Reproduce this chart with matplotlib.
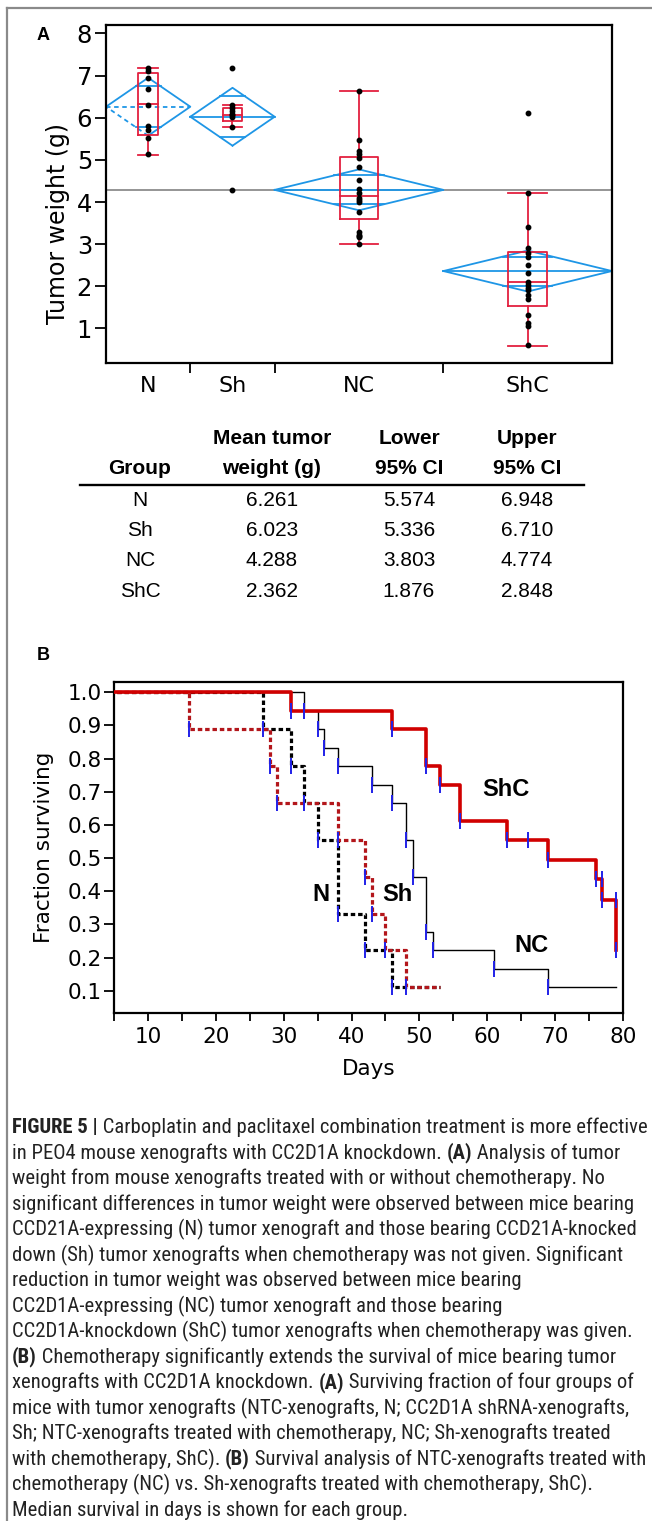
import matplotlib
matplotlib.use('Agg')
import matplotlib.pyplot as plt
from matplotlib.lines import Line2D
from matplotlib import font_manager
import numpy as np

W, H = 652, 1521

# ---------------- panel A: tumor weight
groups = ['N', 'Sh', 'NC', 'ShC']
group_n = [9, 9, 18, 18]
weights_N = [7.19, 7.11, 6.95, 6.68, 6.30, 5.81, 5.72, 5.52, 5.13]
weights_Sh = [7.19, 6.30, 6.22, 6.16, 6.10, 6.06, 6.02, 5.79, 4.29]
weights_NC = [6.63, 5.47, 5.20, 5.15, 5.04, 4.82, 4.53, 4.31, 4.21, 4.10,
              4.05, 4.01, 3.76, 3.28, 3.22, 3.20, 3.16, 3.00]
weights_ShC = [6.12, 4.22, 3.41, 2.90, 2.80, 2.70, 2.50, 2.32, 2.10, 2.03,
               1.97, 1.91, 1.79, 1.69, 1.32, 1.12, 1.05, 0.60]

box_q1 = [5.59, 5.92, 3.60, 1.54]
box_med = [6.32, 6.06, 4.15, 2.10]
box_q3 = [7.06, 6.22, 5.06, 2.82]
whisk_lo = [5.12, 5.79, 3.00, 0.58]
whisk_hi = [7.19, 6.30, 6.63, 4.22]

mean_weight = [6.261, 6.023, 4.288, 2.362]
ci_lower = [5.574, 5.336, 3.803, 1.876]
ci_upper = [6.948, 6.710, 4.774, 2.848]
grand_mean = 4.29

# ---------------- panel B: survival curves
N_days = [27, 31, 33, 35, 38, 42, 46]
N_surv = [0.889, 0.778, 0.667, 0.556, 0.333, 0.222, 0.111]
N_end = 53
N_cens_days = [27, 31, 33, 35, 38, 42, 46]
N_cens_surv = [0.889, 0.778, 0.667, 0.556, 0.333, 0.222, 0.111]

Sh_days = [16, 28, 29, 38, 42, 43, 45, 48]
Sh_surv = [0.889, 0.778, 0.667, 0.556, 0.444, 0.333, 0.222, 0.111]
Sh_end = 53
Sh_cens_days = [16, 28, 29, 38, 42, 43, 45, 48]
Sh_cens_surv = [0.889, 0.778, 0.667, 0.556, 0.444, 0.333, 0.222, 0.111]

NC_days = [33, 35, 36, 38, 43, 46, 48, 49, 51, 52, 61, 69]
NC_surv = [0.944, 0.889, 0.833, 0.778, 0.722, 0.667, 0.556, 0.444,
           0.278, 0.222, 0.167, 0.111]
NC_end = 79
NC_cens_days = NC_days
NC_cens_surv = NC_surv

ShC_days = [31, 46, 51, 53, 56, 63, 69, 76, 77, 79]
ShC_surv = [0.944, 0.889, 0.778, 0.722, 0.611, 0.556, 0.494, 0.437, 0.374, 0.223]
ShC_end = 79
ShC_cens_days = [31, 46, 51, 53, 56, 63, 66, 69, 76, 77, 77, 79, 79]
ShC_cens_surv = [0.944, 0.889, 0.778, 0.722, 0.611, 0.556, 0.556, 0.494,
                 0.437, 0.437, 0.374, 0.374, 0.223]

table_cols = ['Mean tumor\nweight (g)', 'Lower\n95% CI', 'Upper\n95% CI']

caption = [
    [("FIGURE 5 |", True), (" Carboplatin and paclitaxel combination treatment is more effective", False)],
    [("in PEO4 mouse xenografts with CC2D1A knockdown. ", False), ("(A)", True), (" Analysis of tumor", False)],
    [("weight from mouse xenografts treated with or without chemotherapy. No", False)],
    [("significant differences in tumor weight were observed between mice bearing", False)],
    [("CCD21A-expressing (N) tumor xenograft and those bearing CCD21A-knocked", False)],
    [("down (Sh) tumor xenografts when chemotherapy was not given. Significant", False)],
    [("reduction in tumor weight was observed between mice bearing", False)],
    [("CC2D1A-expressing (NC) tumor xenograft and those bearing", False)],
    [("CC2D1A-knockdown (ShC) tumor xenografts when chemotherapy was given.", False)],
    [("(B)", True), (" Chemotherapy significantly extends the survival of mice bearing tumor", False)],
    [("xenografts with CC2D1A knockdown. ", False), ("(A)", True), (" Surviving fraction of four groups of", False)],
    [("mice with tumor xenografts (NTC-xenografts, N; CC2D1A shRNA-xenografts,", False)],
    [("Sh; NTC-xenografts treated with chemotherapy, NC; Sh-xenografts treated", False)],
    [("with chemotherapy, ShC). ", False), ("(B)", True), (" Survival analysis of NTC-xenografts treated with", False)],
    [("chemotherapy (NC) vs. Sh-xenografts treated with chemotherapy, ShC).", False)],
    [("Median survival in days is shown for each group.", False)],
]

BLUE = '#1e96e6'
BOXRED = '#e3203f'
TICKBLUE = '#2020e8'


def px(x, y):
    return x / W, 1 - y / H


fig = plt.figure(figsize=(W / 100, H / 100), dpi=100)

# frame around the figure
fig.add_artist(Line2D([7 / W, 1], [1 - 8 / H] * 2, color='#8a8a8a', lw=1.6,
                      transform=fig.transFigure))
fig.add_artist(Line2D([7 / W, 7 / W], [0, 1 - 8 / H], color='#8a8a8a', lw=1.6,
                      transform=fig.transFigure))

# ================= panel A
axA = fig.add_axes([106 / W, 1 - 363 / H, 506 / W, 338 / H])
edges = np.concatenate([[0], np.cumsum(group_n)])
centers = (edges[:-1] + edges[1:]) / 2
all_weights = [weights_N, weights_Sh, weights_NC, weights_ShC]

axA.axhline(grand_mean, color='#8c8c8c', lw=1.3, zorder=1)

for i, g in enumerate(groups):
    x0, x1, xc = edges[i], edges[i + 1], centers[i]
    m, lo, hi = mean_weight[i], ci_lower[i], ci_upper[i]
    dashed = (g == 'N')
    ls_special = (0, (2.5, 2)) if dashed else '-'
    # diamond
    axA.plot([x0, xc, x1, xc], [m, hi, m, lo], color=BLUE, lw=1.3, zorder=2)
    axA.plot([xc, x0], [lo, m], color=BLUE, lw=1.3, ls=ls_special, zorder=2)
    axA.plot([x0, x1], [m, m], color=BLUE, lw=1.3, ls=ls_special, zorder=2)
    # overlap marks
    half = (hi - m) / np.sqrt(2)
    hw = (1 - 1 / np.sqrt(2)) * (x1 - x0) / 2
    for yv in (m + half, m - half):
        axA.plot([xc - hw, xc + hw], [yv, yv], color=BLUE, lw=1.3, zorder=2)
    # box plot
    bw = 0.23 * group_n[i] / 2
    axA.plot([xc - bw, xc + bw, xc + bw, xc - bw, xc - bw],
             [box_q1[i], box_q1[i], box_q3[i], box_q3[i], box_q1[i]],
             color=BOXRED, lw=1.3, zorder=3)
    axA.plot([xc - bw, xc + bw], [box_med[i]] * 2, color=BOXRED, lw=1.3, zorder=3)
    axA.plot([xc, xc], [box_q3[i], whisk_hi[i]], color=BOXRED, lw=1.3, zorder=3)
    axA.plot([xc, xc], [box_q1[i], whisk_lo[i]], color=BOXRED, lw=1.3, zorder=3)
    for yv in (whisk_lo[i], whisk_hi[i]):
        axA.plot([xc - bw, xc + bw], [yv, yv], color=BOXRED, lw=1.3, zorder=3)
    # points
    axA.plot(np.full(len(all_weights[i]), xc), all_weights[i], 'o', color='black',
             ms=3.2, zorder=4)

axA.set_xlim(0, edges[-1])
axA.set_ylim(0.18, 8.2)
axA.set_yticks(range(1, 9))
axA.set_xticks(edges[1:-1])
axA.set_xticklabels([])
axA.set_xticks(centers, minor=True)
axA.set_xticklabels(groups, minor=True)
axA.tick_params(axis='y', length=8, width=1.3, pad=2, labelsize=17.5)
axA.tick_params(axis='x', which='major', length=7, width=1.3)
axA.tick_params(axis='x', which='minor', length=0, pad=9, labelsize=16)
for s in axA.spines.values():
    s.set_linewidth(1.6)
axA.set_ylabel('Tumor weight (g)', fontsize=17)
axA.yaxis.set_label_coords(-0.071, 0.413)
fig.text(*px(43, 36), 'A', fontsize=13, fontweight='bold', family='Liberation Sans',
         ha='center', va='center')

# ---------------- table
tfont = 'Liberation Sans'
col_x = [140, 272, 409, 527]
fig.text(*px(col_x[0], 469), 'Group', fontsize=15, fontweight='bold', family=tfont,
         ha='center', va='center')
for cx, lab in zip(col_x[1:], table_cols):
    top, bot = lab.split('\n')
    fig.text(*px(cx, 438.5), top, fontsize=15, fontweight='bold', family=tfont,
             ha='center', va='center')
    fig.text(*px(cx, 469), bot, fontsize=15, fontweight='bold', family=tfont,
             ha='center', va='center')
fig.add_artist(Line2D([80 / W, 584 / W], [1 - 484.5 / H] * 2, color='black', lw=1.7,
                      transform=fig.transFigure))
for r, g in enumerate(groups):
    yy = 500 + r * 30.5
    row = [g, '%.3f' % mean_weight[r], '%.3f' % ci_lower[r], '%.3f' % ci_upper[r]]
    for cx, txt in zip(col_x, row):
        fig.text(*px(cx, yy), txt, fontsize=15, family=tfont, ha='center', va='center')

# ================= panel B
axB = fig.add_axes([114.3 / W, 1 - 1012.7 / H, 508.4 / W, 331 / H])


def km(ax, days, surv, end, **kw):
    x = np.r_[0, days, end]
    y = np.r_[1.0, surv, surv[-1]]
    ax.step(x, y, where='post', **kw)


dash = (0, (1.4, 0.9))
km(axB, NC_days, NC_surv, NC_end, color='black', lw=1.0, zorder=2)
km(axB, N_days, N_surv, N_end, color='black', lw=2.3, ls=dash, zorder=3)
km(axB, Sh_days, Sh_surv, Sh_end, color='#b3161b', lw=2.3, ls=dash, zorder=3)
km(axB, ShC_days, ShC_surv, ShC_end, color='#d00000', lw=2.6, zorder=4)

for cd, cs in [(N_cens_days, N_cens_surv), (Sh_cens_days, Sh_cens_surv),
               (NC_cens_days, NC_cens_surv), (ShC_cens_days, ShC_cens_surv)]:
    axB.plot(cd, cs, ls='none', marker='|', ms=11.5, mew=1.4, color=TICKBLUE, zorder=5)

bfont = 'Liberation Sans'
axB.text(62.7, 0.708, 'ShC', fontsize=17, fontweight='bold', family=bfont, ha='center', va='center')
axB.text(66.5, 0.237, 'NC', fontsize=17, fontweight='bold', family=bfont, ha='center', va='center')
axB.text(35.5, 0.39, 'N', fontsize=17, fontweight='bold', family=bfont, ha='center', va='center')
axB.text(46.8, 0.39, 'Sh', fontsize=17, fontweight='bold', family=bfont, ha='center', va='center')

axB.set_xlim(5, 80)
axB.set_ylim(0.034, 1.032)
axB.set_xticks(range(10, 81, 10))
axB.set_xticks(range(5, 81, 5), minor=True)
axB.set_yticks(np.arange(1, 11) / 10)
axB.set_yticklabels(['%.1f' % v for v in np.arange(1, 11) / 10])
axB.tick_params(axis='x', which='both', length=6, width=1.3, pad=4, labelsize=15.5)
axB.tick_params(axis='y', length=7, width=1.3, pad=2, labelsize=15.5)
for s in axB.spines.values():
    s.set_linewidth(1.6)
axB.set_ylabel('Fraction surviving', fontsize=15.5)
axB.yaxis.set_label_coords(-0.119, 0.5)
axB.set_xlabel('Days', fontsize=15.5)
axB.xaxis.set_label_coords(0.5, -0.14)
fig.text(*px(43, 655), 'B', fontsize=13, fontweight='bold', family='Liberation Sans',
         ha='center', va='center')

# ================= caption
names = {f.name for f in font_manager.fontManager.ttflist}
cap_font = 'Roboto'
for cand in ['Liberation Sans Narrow', 'Roboto Condensed', 'Roboto']:
    if cand in names:
        cap_font = cand
        break

renderer = fig.canvas.get_renderer()


def run_width(txt, size, bold):
    # measure with guard characters so leading/trailing spaces are counted
    w = 'bold' if bold else 'normal'
    t1 = fig.text(0, 0, 'x' + txt + 'x', fontsize=size, family=cap_font, fontweight=w)
    t2 = fig.text(0, 0, 'xx', fontsize=size, family=cap_font, fontweight=w)
    width = t1.get_window_extent(renderer).width - t2.get_window_extent(renderer).width
    t1.remove()
    t2.remove()
    return width


test = 12
line1 = sum(run_width(t, test, b) for t, b in caption[0])
cap_size = test * 634 / line1

for i, line in enumerate(caption):
    x = 12
    y = 1127.5 + i * 25.5
    for txt, bold in line:
        fig.text(*px(x, y), txt, fontsize=cap_size, family=cap_font,
                 fontweight='bold' if bold else 'normal', color='#222222',
                 ha='left', va='center')
        x += run_width(txt, cap_size, bold)

fig.savefig('out.png', dpi=100)
